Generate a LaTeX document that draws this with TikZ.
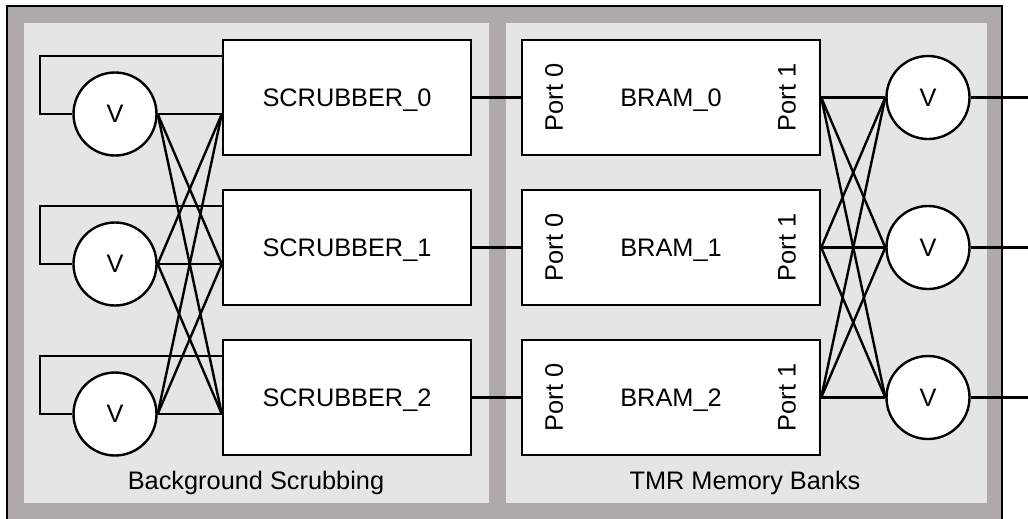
\documentclass[tikz,border=0pt]{standalone}
\usepackage{fontspec}
\setmainfont{Liberation Sans}
\usetikzlibrary{calc}
\definecolor{framegray}{RGB}{174,170,169}
\definecolor{panelgray}{RGB}{229,229,229}

\begin{document}
\begin{tikzpicture}[x=0.75pt,y=-0.75pt,line width=1.8pt,
font=\fontsize{19}{22}\selectfont,
every node/.style={text depth=0pt},
block/.style={draw,fill=white,minimum height=86.25pt,inner sep=0pt},
scrub/.style={block,minimum width=186pt},
bram/.style={block,minimum width=223.5pt},
voter/.style={circle,draw,fill=white,minimum size=62.25pt,inner sep=0pt},
port/.style={rotate=90,inner sep=0pt}]
\useasboundingbox (0,0) rectangle (1028,518);

\fill[framegray] (7,6) rectangle (1002,520);
\draw[line width=2.2pt] (7,520) -- (7,6) -- (1002,6) -- (1002,520);
\fill[panelgray] (24,23) rectangle (489,503);
\fill[panelgray] (506,23) rectangle (987,503);
\node (bgs) at (256,480) {Background Scrubbing};
\node (tmr) at (745,480) {TMR Memory Banks};

\foreach \i in {0,1,2}{
\node[scrub] (scrub\i) at (347,97.5+150*\i) {SCRUBBER\_\i};
\node[voter] (lv\i) at (115,114+150*\i) {V};
\node[bram] (bram\i) at (671,97.5+150*\i) {BRAM\_\i};
\node[port] (porta\i) at (554,97.5+150*\i) {Port 0};
\node[port] (portb\i) at (787,97.5+150*\i) {Port 1};
\node[voter] (rv\i) at (928,97.5+150*\i) {V};
\coordinate (out\i) at (1032,97.5+150*\i);
}

\foreach \i in {0,1,2}{
\draw ($(scrub\i.north west)+(0,17)$) -| ($(lv\i.west)+(-32.5,0)$) -- (lv\i.west);
\draw (scrub\i.east) -- (bram\i.west);
\draw (rv\i.east) -- (out\i);
\foreach \j in {0,1,2}{
\draw (lv\i.east) -- (scrub\j.west |- lv\j.east);
\draw (bram\i.east) -- (rv\j.west);
}
}

\end{tikzpicture}
\end{document}
